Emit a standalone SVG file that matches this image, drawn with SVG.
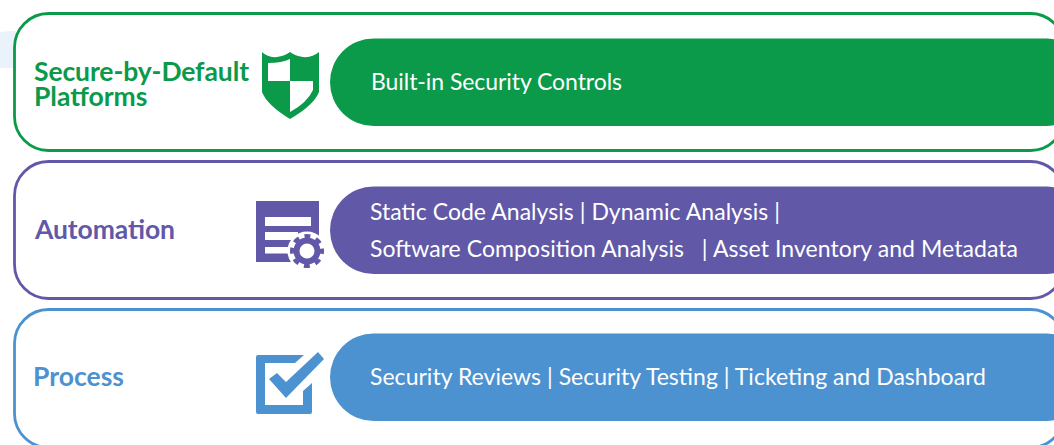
<svg xmlns="http://www.w3.org/2000/svg" width="1054" height="445" viewBox="0 0 1054 445">
<style>
text{font-family:"Lato","Noto Sans","Liberation Sans",sans-serif}
.t{font-size:23px;fill:#fff;font-weight:400}
.h{font-size:26.500px;font-weight:700}
.card{fill:#fff;stroke-width:2.8}
</style>
<rect width="1054" height="445" fill="#fff"/>
<path d="M0 32Q8 31 16 31V68H0Z" fill="#eaf3fb"/>
<g id="node-platforms">
<rect class="card" x="14.500" y="13.500" width="1050" height="137" rx="34" stroke="#0a9a4a"/>
<rect x="330" y="38.500" width="760" height="87.500" rx="43.700" fill="#0a9a4a"/>
<text class="h" x="34" y="81" fill="#0a9a4a" textLength="215">Secure-by-Default</text>
<text class="h" x="34" y="106" fill="#0a9a4a">Platforms</text>
<path fill="#0a9a4a" fill-rule="evenodd" d="M262 52Q268 58 277 57Q285 56 290 52Q295 56 303 57Q312 58 319 52V92Q314 105 290 119Q267 105 262 92ZM268 63V81H290V112Q307 103 313 90V81H290V59Q282 63 268 63Z"/>
<text class="t" x="371" y="90" textLength="251">Built-in Security Controls</text>
</g>
<g id="node-automation">
<rect class="card" x="14.500" y="161.500" width="1050" height="137" rx="34" stroke="#6159a7"/>
<rect x="330" y="186.500" width="760" height="87.500" rx="43.700" fill="#6159a7"/>
<text class="h" x="35" y="239" fill="#6159a7" textLength="140">Automation</text>
<rect x="256" y="201" width="63" height="61" fill="#6159a7"/>
<rect x="265" y="217" width="46" height="9" fill="#fff"/>
<rect x="265" y="232" width="33" height="8" fill="#fff"/>
<rect x="265" y="247" width="25" height="6.500" fill="#fff"/>
<circle cx="307" cy="251" r="19.500" fill="#fff"/>
<circle cx="307" cy="251" r="10.500" fill="none" stroke="#6159a7" stroke-width="6"/>
<circle cx="307" cy="251" r="15" fill="none" stroke="#6159a7" stroke-width="4" stroke-dasharray="6 5.780" stroke-dashoffset="3"/>
<text class="t" x="370" y="220" textLength="410">Static Code Analysis | Dynamic Analysis |</text>
<text class="t" x="370" y="257" xml:space="preserve" textLength="648">Software Composition Analysis   | Asset Inventory and Metadata</text>
</g>
<g id="node-process">
<rect class="card" x="14.500" y="309.500" width="1050" height="138" rx="34" stroke="#4d92d0"/>
<rect x="330" y="333.500" width="760" height="87.500" rx="43.700" fill="#4d92d0"/>
<text class="h" x="33" y="386" fill="#4d92d0" textLength="91">Process</text>
<path fill="#4d92d0" d="M258 355H304L295 363H265V405H303V391L312 383V412Q312 414 310 414H258Q256 414 256 412V357Q256 355 258 355Z"/>
<path fill="#4d92d0" d="M269 379L277 373L286 382L318 352L324 359L286 398Z"/>
<text class="t" x="370" y="385" textLength="616">Security Reviews | Security Testing | Ticketing and Dashboard</text>
</g>
<g id="connectors"/>
</svg>
